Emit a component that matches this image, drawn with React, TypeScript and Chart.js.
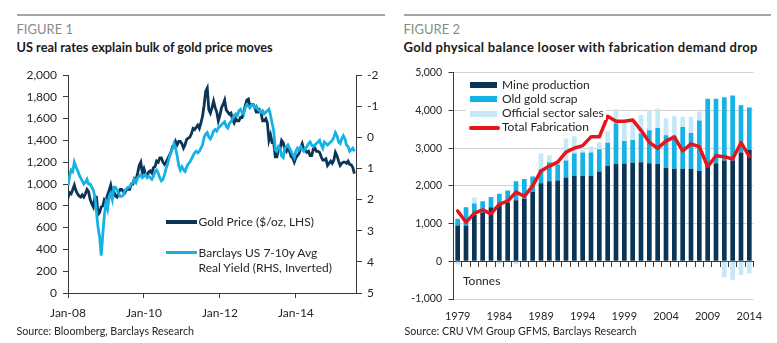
import React, { useEffect, useRef } from "react";
import { Chart, registerables } from "chart.js";
Chart.register(...registerables);

const FONT = "Lato, 'Noto Sans', sans-serif";

// ---------- Figure 1: semi-monthly observations starting Jan-08 ----------
const goldPrice = [
  870, 920, 910, 950, 990, 940, 910, 890, 880, 900, 880, 910, 950, 930, 860, 820, 790, 880, 880, 720, 740, 790, 800, 860,
  850, 900, 940, 990, 920, 930, 890, 880, 920, 950, 950, 930, 920, 950, 950, 950, 1000, 1000, 1050, 1040, 1100, 1170, 1200, 1100,
  1140, 1090, 1070, 1110, 1120, 1100, 1150, 1160, 1210, 1200, 1240, 1240, 1200, 1180, 1200, 1230, 1260, 1290, 1340, 1340, 1390, 1360, 1390, 1390,
  1370, 1330, 1360, 1410, 1420, 1430, 1460, 1510, 1500, 1520, 1540, 1510, 1560, 1620, 1720, 1850, 1880, 1680, 1650, 1700, 1760, 1700, 1660, 1580,
  1630, 1700, 1730, 1770, 1680, 1660, 1640, 1650, 1590, 1560, 1600, 1580, 1580, 1610, 1610, 1660, 1720, 1770, 1780, 1710, 1730, 1730, 1700, 1660,
  1660, 1680, 1650, 1580, 1580, 1600, 1560, 1400, 1450, 1380, 1380, 1250, 1250, 1320, 1320, 1400, 1380, 1320, 1300, 1340, 1300, 1250, 1240, 1200,
  1240, 1260, 1280, 1330, 1370, 1320, 1310, 1290, 1300, 1260, 1260, 1320, 1330, 1300, 1300, 1290, 1250, 1220, 1220, 1230, 1170, 1190, 1210, 1190,
  1220, 1290, 1260, 1210, 1170, 1190, 1200, 1200, 1190, 1210, 1180, 1175, 1150, 1095,
];
const realYield = [
  1.55, 1.25, 1.05, 1.1, 0.8, 0.95, 1.05, 1.2, 1.3, 1.4, 1.5, 1.45, 1.35, 1.5, 1.5, 1.6, 1.7, 1.9, 2.4, 2.9, 3.2, 3.8, 3.1, 2.5,
  2.1, 2.3, 1.9, 1.8, 2.0, 1.6, 1.6, 1.7, 1.8, 1.9, 1.9, 1.85, 1.7, 1.65, 1.6, 1.6, 1.5, 1.45, 1.35, 1.45, 1.3, 1.25, 1.2, 1.3,
  1.25, 1.2, 1.3, 1.25, 1.3, 1.35, 1.25, 1.1, 1.05, 1.15, 1.3, 1.4, 1.35, 1.2, 1.0, 0.85, 0.65, 0.5, 0.35, 0.2, 0.35, 0.6, 0.9, 1.05,
  0.95, 1.05, 1.1, 0.95, 0.85, 0.8, 0.7, 0.6, 0.5, 0.45, 0.5, 0.45, 0.35, 0.25, 0.0, -0.1, -0.15, 0.0, 0.05, -0.05, -0.2, -0.25, -0.2, -0.3,
  -0.35, -0.4, -0.45, -0.5, -0.35, -0.3, -0.45, -0.5, -0.6, -0.7, -0.75, -0.7, -0.85, -0.9, -0.8, -0.75, -0.95, -1.05, -1.0, -0.95, -1.05, -1.05, -0.95, -1.0,
  -0.9, -0.85, -0.8, -0.85, -0.75, -0.8, -0.85, -0.9, -0.7, -0.45, -0.2, 0.4, 0.45, 0.3, 0.35, 0.6, 0.65, 0.35, 0.3, 0.25, 0.35, 0.45, 0.55, 0.65,
  0.45, 0.35, 0.4, 0.3, 0.4, 0.45, 0.35, 0.3, 0.2, 0.15, 0.25, 0.3, 0.25, 0.2, 0.15, 0.1, 0.25, 0.35, 0.15, 0.2, 0.25, 0.2, 0.15, 0.1,
  0.0, -0.15, -0.05, 0.15, 0.2, 0.05, -0.05, 0.05, 0.25, 0.3, 0.45, 0.4, 0.35, 0.45,
];
const fig1TickMonths = [0, 24, 48, 72];
const fig1TickLabels = ["Jan-08", "Jan-10", "Jan-12", "Jan-14"];

// ---------- Figure 2: annual, tonnes ----------
const years = [
  "1979", "1980", "1981", "1982", "1983", "1984", "1985", "1986", "1987", "1988", "1989", "1990",
  "1991", "1992", "1993", "1994", "1995", "1996", "1997", "1998", "1999", "2000", "2001", "2002",
  "2003", "2004", "2005", "2006", "2007", "2008", "2009", "2010", "2011", "2012", "2013", "2014",
];
const mineProduction = [
  948, 948, 1233, 1293, 1431, 1491, 1552, 1621, 1664, 1836, 2069, 2121,
  2146, 2224, 2267, 2267, 2267, 2379, 2526, 2586, 2595, 2612, 2629, 2603,
  2586, 2474, 2457, 2457, 2457, 2396, 2569, 2603, 2672, 2672, 2888, 2957,
];
const oldGoldScrap = [
  181, 483, 301, 302, 276, 302, 327, 500, 517, 414, 370, 508,
  423, 448, 595, 621, 621, 595, 620, 1078, 594, 603, 759, 871,
  948, 871, 870, 1103, 948, 1336, 1741, 1707, 1681, 1724, 1250, 1120,
];
const officialSectorSales = [
  -86, 0, 156, 0, 0, -60, 0, -80, 0, 0, 423, 181,
  100, 586, 457, 69, 155, 181, 302, 370, 500, 470, 491, 543,
  517, 448, 535, 276, 431, 242, 0, 0, -422, -491, -362, -319,
];
const totalFabrication = [
  1336, 1034, 1276, 1362, 1259, 1517, 1595, 1836, 1724, 2000, 2396, 2526,
  2629, 2896, 3000, 3069, 3301, 3301, 3845, 3715, 3715, 3750, 3474, 3155,
  3000, 3189, 3301, 2931, 3112, 3043, 2508, 2801, 2776, 2715, 3146, 2784,
];

const NAVY = "#0b3556";
const CYAN = "#14b2e5";
const PALE = "#c6e8f6";
const RED = "#e8141b";
const AXIS = "#3a3a3a";
const TEXT = "#262626";

const fmt = (v: number) => String(v).replace(/\B(?=(\d{3})+(?!\d))/g, ",");

function txt(left: number, top: number, size: number, s: string, extra: any = {}) {
  return (
    <div
      style={{
        position: "absolute",
        left,
        top,
        fontSize: size,
        lineHeight: 1,
        whiteSpace: "nowrap",
        fontFamily: FONT,
        color: TEXT,
        ...extra,
      }}
    >
      {s}
    </div>
  );
}

function box(left: number, top: number, width: number, height: number, bg: string, extra: any = {}) {
  return <div style={{ position: "absolute", left, top, width, height, background: bg, ...extra }} />;
}

export default function App() {
  const c1 = useRef<HTMLCanvasElement>(null);
  const c2 = useRef<HTMLCanvasElement>(null);

  useEffect(() => {
    Chart.defaults.font.family = FONT;
    Chart.defaults.color = TEXT;

    const ch1 = new Chart(c1.current!, {
      type: "line",
      data: {
        datasets: [
          {
            label: "Barclays US 7-10y Avg Real Yield (RHS, Inverted)",
            data: realYield.map((v, i) => ({ x: i / 2, y: v })),
            yAxisID: "y1",
            borderColor: CYAN,
            borderWidth: 2.8,
            pointRadius: 0,
            order: 0,
          },
          {
            label: "Gold Price ($/oz, LHS)",
            data: goldPrice.map((v, i) => ({ x: i / 2, y: v })),
            yAxisID: "y",
            borderColor: NAVY,
            borderWidth: 2.8,
            pointRadius: 0,
            order: 1,
          },
        ],
      },
      options: {
        responsive: false,
        animation: false,
        plugins: { legend: { display: false }, tooltip: { enabled: false } },
        layout: { padding: { top: 15, left: 0, right: 0, bottom: 0 } },
        scales: {
          x: {
            type: "linear",
            min: 0,
            max: 91,
            afterBuildTicks: (s: any) => {
              s.ticks = fig1TickMonths.map((v) => ({ value: v }));
            },
            ticks: {
              callback: (v: any) => fig1TickLabels[fig1TickMonths.indexOf(Number(v))] ?? "",
              font: { size: 12 },
              color: TEXT,
              padding: 7.5,
              maxRotation: 0,
              autoSkip: false,
            },
            grid: { drawOnChartArea: false, drawTicks: true, tickLength: 5, tickColor: AXIS },
            border: { color: AXIS },
            afterFit: (s: any) => {
              s.height = 32;
            },
          },
          y: {
            position: "left",
            min: 0,
            max: 2000,
            ticks: { stepSize: 200, callback: (v: any) => fmt(Number(v)), font: { size: 12 }, color: TEXT, padding: 6 },
            grid: { drawOnChartArea: false, tickLength: 5, tickColor: AXIS },
            border: { color: AXIS },
            afterFit: (s: any) => {
              s.width = 68;
            },
          },
          y1: {
            position: "right",
            reverse: true,
            min: -2,
            max: 5,
            ticks: { stepSize: 1, callback: (v: any) => String(v), font: { size: 12 }, color: TEXT, padding: 5 },
            grid: { drawOnChartArea: false, tickLength: 6, tickColor: AXIS },
            border: { color: AXIS },
            afterFit: (s: any) => {
              s.width = 34;
            },
          },
        },
      },
    } as any);

    const ch2 = new Chart(c2.current!, {
      type: "bar",
      data: {
        labels: years,
        datasets: [
          {
            type: "line",
            label: "Total Fabrication",
            data: totalFabrication,
            borderColor: RED,
            borderWidth: 3.5,
            borderJoinStyle: "round",
            borderCapStyle: "round",
            pointRadius: 0,
            stack: "line",
            order: 0,
          },
          { label: "Mine production", data: mineProduction, backgroundColor: NAVY, stack: "s", order: 1 },
          { label: "Old gold scrap", data: oldGoldScrap, backgroundColor: CYAN, stack: "s", order: 1 },
          { label: "Official sector sales", data: officialSectorSales, backgroundColor: PALE, stack: "s", order: 1 },
        ],
      },
      options: {
        responsive: false,
        animation: false,
        barPercentage: 0.56,
        categoryPercentage: 1,
        plugins: { legend: { display: false }, tooltip: { enabled: false } },
        layout: { padding: { top: 8, left: 0, right: 23.5, bottom: 0 } },
        scales: {
          x: {
            stacked: true,
            position: { y: 0 },
            offset: true,
            ticks: { display: false },
            grid: { offset: true, drawOnChartArea: false, drawTicks: true, tickLength: 5, tickColor: AXIS },
            border: { color: AXIS },
          },
          x2: {
            type: "category",
            labels: years,
            position: "bottom",
            offset: true,
            grid: { display: false },
            border: { display: false },
            ticks: {
              autoSkip: false,
              maxRotation: 0,
              callback: (_v: any, i: number) => (i % 5 === 0 ? years[i] : ""),
              font: { size: 11 },
              color: TEXT,
              padding: 3,
            },
            afterFit: (s: any) => {
              s.height = 31;
            },
          },
          y: {
            stacked: true,
            min: -1000,
            max: 5000,
            ticks: { stepSize: 1000, callback: (v: any) => fmt(Number(v)), font: { size: 10.5 }, color: TEXT, padding: 6.5 },
            grid: {
              color: (ctx: any) => (ctx.tick && ctx.tick.value === 0 ? "rgba(0,0,0,0)" : "#d2d2d2"),
              tickColor: AXIS,
              tickLength: 5,
            },
            border: { color: AXIS },
            afterFit: (s: any) => {
              s.width = 63.5;
            },
          },
        },
      },
    } as any);

    return () => {
      ch1.destroy();
      ch2.destroy();
    };
  }, []);

  return (
    <div
      style={{
        position: "fixed",
        left: 0,
        top: 0,
        width: 777,
        height: 343,
        background: "#fff",
        overflow: "hidden",
        fontFamily: FONT,
      }}
    >
      {/* Figure 1 header */}
      {box(17, 14, 368, 2, "#a6a6a6")}
      {txt(16.5, 22.8, 13, "FIGURE 1", { color: "#8a8a8a" })}
      {txt(16.5, 40.7, 12.75, "US real rates explain bulk of gold price moves", { fontWeight: 700, color: "#1a1a1a" })}

      {/* Figure 2 header */}
      {box(404, 14, 367, 2, "#a6a6a6")}
      {txt(403.5, 22.8, 13, "FIGURE 2", { color: "#8a8a8a" })}
      {txt(403.5, 40.5, 13, "Gold physical balance looser with fabrication demand drop", {
        fontWeight: 700,
        color: "#1a1a1a",
        letterSpacing: 0.3,
      })}

      <canvas ref={c1} width={390} height={265} style={{ position: "absolute", left: 0, top: 60, display: "block" }} />
      <canvas ref={c2} width={387} height={270} style={{ position: "absolute", left: 390, top: 60, display: "block" }} />

      {/* Figure 1 legend */}
      {box(166, 220, 31, 4, NAVY)}
      {txt(198.5, 215.9, 12, "Gold Price ($/oz, LHS)")}
      {box(166, 250.7, 31, 3.7, CYAN)}
      {txt(198.5, 246.9, 12, "Barclays US 7-10y Avg")}
      {txt(198.5, 261.9, 12, "Real Yield (RHS, Inverted)")}

      {/* Figure 2 legend */}
      {box(466, 75, 140, 45, "#fff")}
      {box(470.3, 82.3, 27, 6, NAVY)}
      {txt(502, 78.7, 12, "Mine production")}
      {box(470.3, 96.2, 27, 6, CYAN)}
      {txt(502, 92.7, 12, "Old gold scrap")}
      {box(470.3, 111.2, 27, 6, PALE)}
      {txt(502, 106.9, 12, "Official sector sales")}
      {box(468.7, 125.5, 31.5, 4.2, RED, { borderRadius: 2.1 })}
      {txt(502, 121, 12, "Total Fabrication")}
      {txt(463, 275.4, 12, "Tonnes")}

      {/* Sources */}
      {txt(16.5, 326.4, 10.7, "Source: Bloomberg, Barclays Research")}
      {txt(404.5, 326.4, 10.7, "Source: CRU VM Group GFMS, Barclays Research")}
    </div>
  );
}
